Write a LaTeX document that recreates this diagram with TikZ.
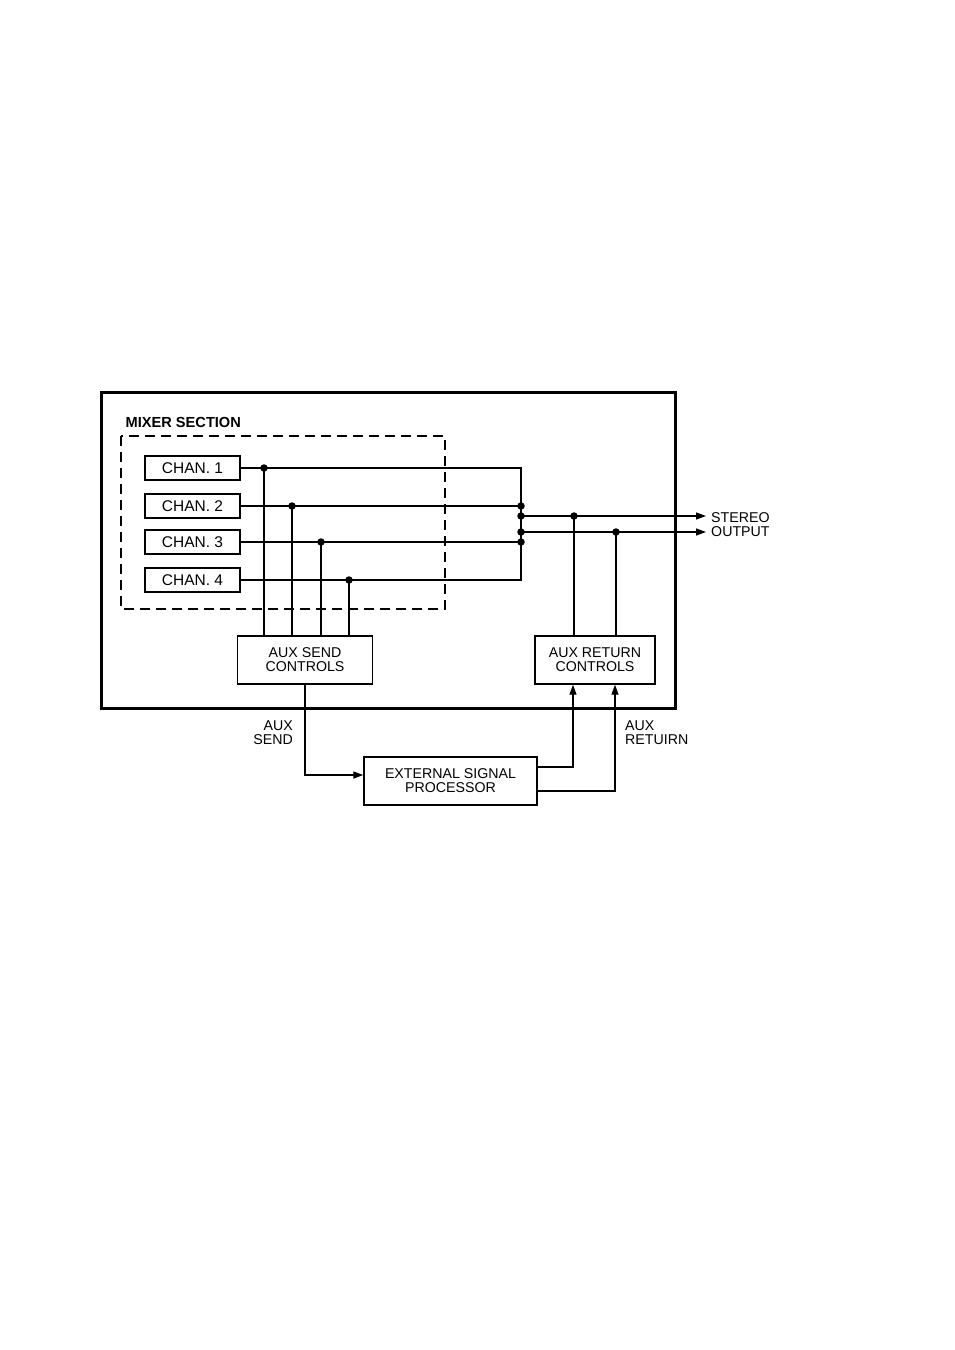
\documentclass[tikz,border=0pt]{standalone}
\usepackage{fontspec}
\setmainfont{Liberation Sans}
\usetikzlibrary{arrows.meta}
\begin{document}
\begin{tikzpicture}[x=1pt,y=-1pt,
  box/.style={draw,line width=1.4pt,inner sep=0pt,align=center,font=\fontsize{14.2}{14}\selectfont},
  chanbox/.style={box,minimum width=95pt,minimum height=24pt,font=\fontsize{15.5}{15.5}\selectfont},
  wire/.style={line width=1.3pt},
  arr/.style={wire,-{Triangle[length=10pt,width=7pt]}},
  jdot/.style={circle,fill=black,inner sep=0pt,minimum size=7.5pt},
  lbl/.style={inner sep=0pt,font=\fontsize{14.2}{14}\selectfont}]
\useasboundingbox[fill=white] (0,0) rectangle (954,1350);
% frames
\draw[line width=3pt] (101,392) rectangle (675,708);
\draw[line width=1.9pt,dash pattern=on 10pt off 6pt] (121,436) rectangle (445,609);
\node[lbl,anchor=west,font=\fontsize{14.6}{14}\selectfont\bfseries] (mix) at (125.5,422) {MIXER SECTION};
% channels
\node[chanbox] (c1) at (192.5,468) {CHAN. 1};
\node[chanbox] (c2) at (192.5,506) {CHAN. 2};
\node[chanbox] (c3) at (192.5,542) {CHAN. 3};
\node[chanbox] (c4) at (192.5,580) {CHAN. 4};
% boxes
\node[box,minimum width=135pt,minimum height=48pt] (send) at (305,660) {AUX SEND\\CONTROLS};
\node[box,minimum width=120pt,minimum height=48pt] (ret) at (595,660) {AUX RETURN\\CONTROLS};
\node[box,minimum width=173pt,minimum height=48pt] (ext) at (450.5,781) {EXTERNAL SIGNAL\\PROCESSOR};
% junctions
\node[jdot] (j1) at (264,468) {};
\node[jdot] (j2) at (292,506) {};
\node[jdot] (j3) at (321,542) {};
\node[jdot] (j4) at (349,580) {};
\node[jdot] (b2) at (521,506) {};
\node[jdot] (bl) at (521,516) {};
\node[jdot] (br) at (521,532) {};
\node[jdot] (b3) at (521,542) {};
\node[jdot] (rl) at (574,516) {};
\node[jdot] (rr) at (616,532) {};
\coordinate (b1) at (521,468);
\coordinate (b4) at (521,580);
\coordinate (outl) at (706,516);
\coordinate (outr) at (706,532);
% channel wires
\draw[wire] (c1.east) -- (b1) -- (b4) -- (c4.east);
\draw[wire] (c2.east) -- (b2.center);
\draw[wire] (c3.east) -- (b3.center);
\draw[wire] (j1.center) -- (j1.center |- send.north);
\draw[wire] (j2.center) -- (j2.center |- send.north);
\draw[wire] (j3.center) -- (j3.center |- send.north);
\draw[wire] (j4.center) -- (j4.center |- send.north);
% stereo outs
\draw[arr] (bl.center) -- (outl);
\draw[arr] (br.center) -- (outr);
\draw[wire] (rl.center) -- (rl.center |- ret.north);
\draw[wire] (rr.center) -- (rr.center |- ret.north);
\node[lbl,anchor=west,align=left,font=\fontsize{14.2}{14.5}\selectfont] (stereo) at (711,524.5) {STEREO\\OUTPUT};
% external loop
\coordinate (s1) at (305,775);
\draw[arr] (send.south -| s1) -- (s1) -- (s1 -| ext.west);
\coordinate (e1) at (573,767);
\coordinate (e2) at (615,791);
\draw[arr] (e1 -| ext.east) -- (e1) -- (e1 |- ret.south);
\draw[arr] (e2 -| ext.east) -- (e2) -- (e2 |- ret.south);
\node[lbl,anchor=east,align=right] (auxs) at (293,733) {AUX\\SEND};
\node[lbl,anchor=west,align=left] (auxr) at (625,733) {AUX\\RETUIRN};
\end{tikzpicture}
\end{document}
